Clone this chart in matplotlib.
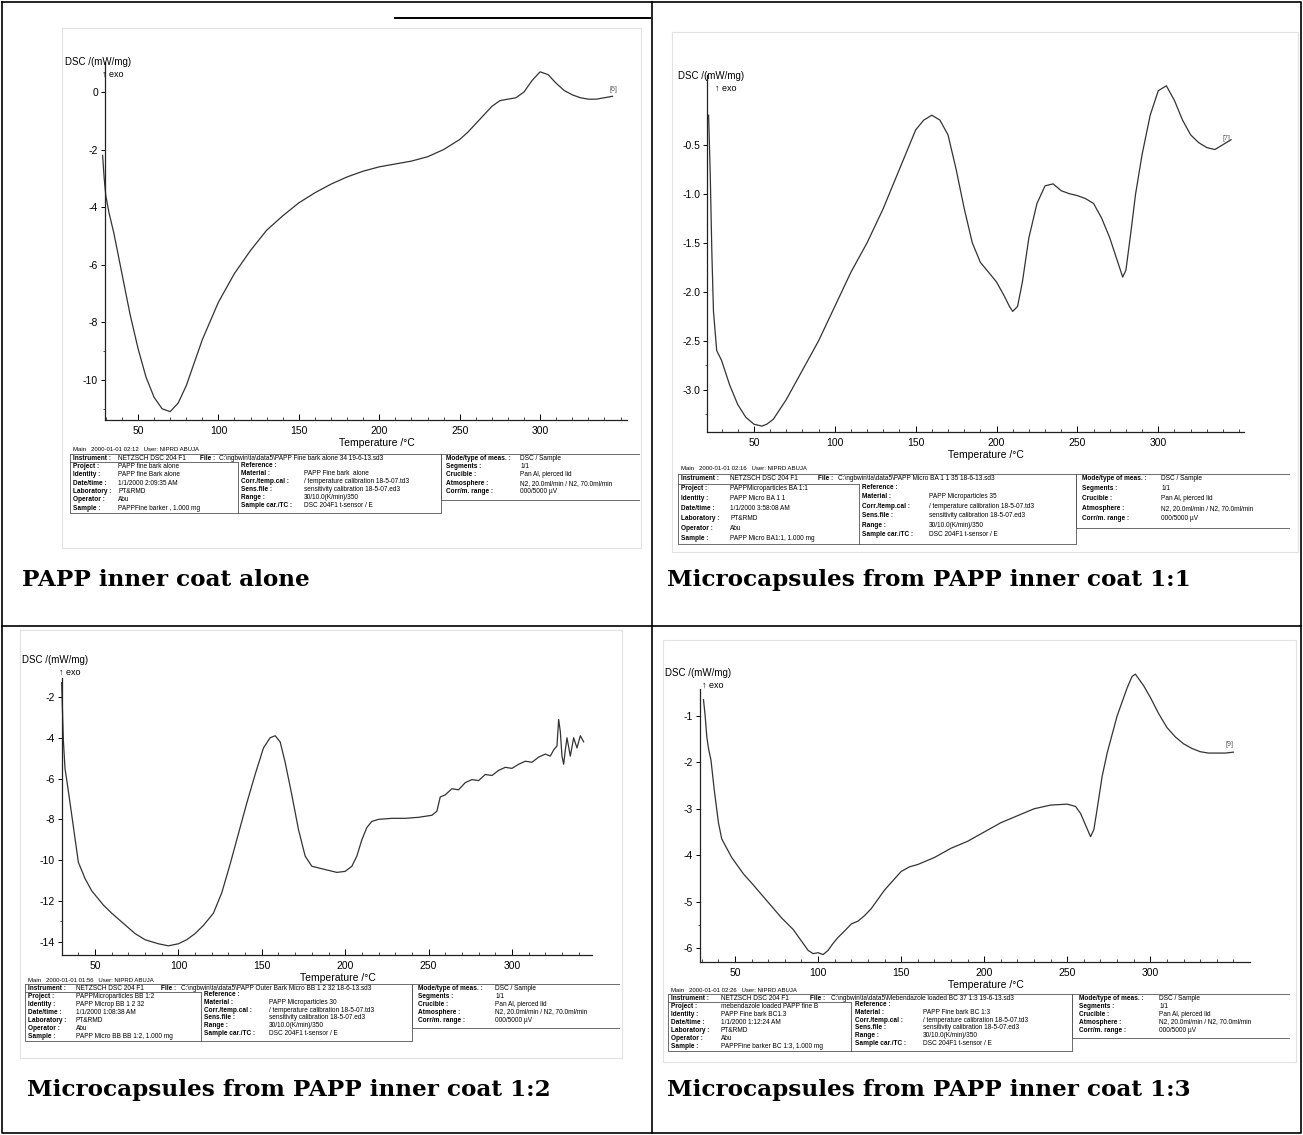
import matplotlib
matplotlib.use("Agg")
import matplotlib.pyplot as plt
from matplotlib.lines import Line2D

W, H = 1303, 1135
plt.rcParams['font.family'] = ['Liberation Sans', 'DejaVu Sans']

# ---- data (temperature / degC, DSC / (mW/mg)) ----
tl_temp = [28, 29, 30, 32, 35, 40, 45, 50, 55, 60, 65, 70, 75, 80, 85, 90, 100, 110, 120, 130,
           140, 150, 160, 170, 180, 190, 200, 210, 220, 230, 240, 250, 255, 260, 265, 270, 275, 280,
           285, 290, 295, 300, 305, 310, 315, 320, 325, 330, 335, 340, 345]
tl_dsc = [-2.2, -3.0, -3.6, -4.2, -4.9, -6.3, -7.7, -8.9, -9.9, -10.6, -11.0, -11.1, -10.8, -10.2,
          -9.4, -8.6, -7.3, -6.3, -5.5, -4.8, -4.3, -3.85, -3.5, -3.2, -2.95, -2.75, -2.6, -2.5,
          -2.4, -2.25, -2.0, -1.65, -1.4, -1.1, -0.8, -0.5, -0.3, -0.25, -0.2, 0.0, 0.4, 0.7, 0.6,
          0.3, 0.05, -0.1, -0.2, -0.25, -0.25, -0.2, -0.15]

tr_temp = [22, 23, 24, 25, 27, 30, 35, 40, 45, 50, 55, 58, 62, 70, 80, 90, 100, 110, 120, 130,
           140, 150, 155, 160, 165, 170, 175, 180, 185, 190, 195, 200, 205, 208, 210, 213, 216, 220,
           225, 230, 235, 240, 245, 250, 255, 260, 265, 270, 275, 278, 280, 283, 286, 290, 295, 300,
           305, 310, 315, 320, 325, 330, 335, 340, 345]
tr_dsc = [-0.2, -0.8, -1.6, -2.2, -2.6, -2.7, -2.95, -3.15, -3.28, -3.35, -3.37, -3.35, -3.3, -3.1,
          -2.8, -2.5, -2.15, -1.8, -1.5, -1.15, -0.75, -0.35, -0.25, -0.2, -0.25, -0.4, -0.75, -1.15,
          -1.5, -1.7, -1.8, -1.9, -2.05, -2.15, -2.2, -2.15, -1.9, -1.45, -1.1, -0.92, -0.9, -0.97,
          -1.0, -1.02, -1.05, -1.1, -1.25, -1.45, -1.7, -1.85, -1.78, -1.4, -1.0, -0.6, -0.2, 0.05,
          0.1, -0.05, -0.25, -0.4, -0.48, -0.53, -0.55, -0.5, -0.45]

bl_temp = [30, 31, 32, 34, 37, 40, 44, 48, 55, 60, 67, 74, 80, 88, 94, 100, 105, 110, 115, 121,
           126, 131, 136, 141, 146, 151, 155, 158, 161, 164, 168, 172, 176, 180, 185, 190, 195, 200,
           204, 207, 210, 213, 216, 220, 228, 236, 244, 252, 255, 257, 260, 264, 268, 272, 276,
           280, 284, 288, 292, 296, 300, 304, 308, 312, 316, 320, 323, 325, 327, 328, 329, 330, 331,
           332, 333, 335, 337, 339, 341, 343]
bl_dsc = [-1.3, -4.1, -5.5, -6.6, -8.35, -10.1, -10.9, -11.5, -12.2, -12.6, -13.1, -13.6, -13.9,
          -14.1, -14.2, -14.1, -13.9, -13.6, -13.2, -12.6, -11.6, -10.2, -8.7, -7.2, -5.8, -4.5,
          -4.0, -3.9, -4.2, -5.2, -6.8, -8.5, -9.8, -10.3, -10.4, -10.5, -10.6, -10.55, -10.3,
          -9.8, -9.0, -8.4, -8.1, -8.0, -7.95, -7.95, -7.9, -7.8, -7.6, -6.9, -6.8, -6.5, -6.55,
          -6.2, -6.05, -6.1, -5.8, -5.85, -5.6, -5.45, -5.5, -5.3, -5.15, -5.2, -4.95, -4.8,
          -4.9, -4.6, -4.4, -3.1, -3.7, -4.9, -5.3, -4.6, -4.0, -4.9, -4.0, -4.5, -3.9, -4.2]

br_temp = [31, 32, 33, 34, 35.5, 37.5, 40, 42, 48, 55, 60, 66, 72, 78, 85, 90, 94, 97, 100, 103,
           106, 109, 112, 116, 120, 124, 128, 132, 136, 140, 145, 150, 155, 160, 170, 180, 190, 200,
           210, 220, 230, 240, 250, 255, 258, 261, 264, 266, 268, 271, 274, 277, 280, 283, 286, 289,
           291, 293, 296, 300, 305, 310, 315, 320, 325, 330, 335, 340, 345, 350]
br_dsc = [-0.65, -1.0, -1.45, -1.7, -1.95, -2.6, -3.3, -3.65, -4.05, -4.4, -4.6, -4.85, -5.1,
          -5.35, -5.6, -5.85, -6.05, -6.12, -6.1, -6.14, -6.05, -5.9, -5.77, -5.63, -5.48, -5.42,
          -5.3, -5.15, -4.95, -4.75, -4.55, -4.35, -4.25, -4.2, -4.05, -3.85, -3.7, -3.5, -3.3,
          -3.15, -3.0, -2.92, -2.9, -2.95, -3.1, -3.35, -3.6, -3.45, -3.0, -2.3, -1.8, -1.4, -1.0,
          -0.7, -0.4, -0.15, -0.1, -0.2, -0.35, -0.6, -0.95, -1.25, -1.45, -1.6, -1.7, -1.77, -1.8,
          -1.8, -1.8, -1.78]

x_ticks = [50, 100, 150, 200, 250, 300]
tl_yticks = [0, -2, -4, -6, -8, -10]
tr_yticks = [-0.5, -1.0, -1.5, -2.0, -2.5, -3.0]
bl_yticks = [-2, -4, -6, -8, -10, -12, -14]
br_yticks = [-1, -2, -3, -4, -5, -6]

captions = ["PAPP inner coat alone", "Microcapsules from PAPP inner coat 1:1",
            "Microcapsules from PAPP inner coat 1:2", "Microcapsules from PAPP inner coat 1:3"]


def frac(l, t, r, b):
    return [l / W, 1 - b / H, (r - l) / W, (b - t) / H]


def fig_line(fig, xs, ys, **kw):
    fig.add_artist(Line2D([x / W for x in xs], [1 - y / H for y in ys],
                          transform=fig.transFigure, **kw))


def draw_dsc(fig, box, xlim, ylim, ytop, T, dsc, yticks, yfmt, tag, tag_pos, lab_xy):
    ax = fig.add_axes(frac(*box))
    ax.plot(T, dsc, color='#333333', lw=0.9, clip_on=False)
    ax.set_xlim(xlim)
    ax.set_ylim(ylim)
    ax.patch.set_alpha(0)
    ax.spines['top'].set_visible(False)
    ax.spines['right'].set_visible(False)
    ax.spines['left'].set_bounds(ylim[0], ytop)
    for s in ('left', 'bottom'):
        ax.spines[s].set_linewidth(0.9)
        ax.spines[s].set_color('#222222')
    ax.set_xticks(x_ticks)
    ax.set_xticks([t for t in range(30, 360, 10) if xlim[0] <= t <= xlim[1] and t not in x_ticks],
                  minor=True)
    ax.set_yticks(yticks)
    ax.set_yticklabels([yfmt.format(v) for v in yticks])
    step = abs(yticks[1] - yticks[0]) / 2
    ax.set_yticks([v for v in [yticks[-1] - step * k for k in range(-1, 40)]
                   if ylim[0] <= v <= ytop and v not in yticks], minor=True)
    ax.tick_params(axis='x', which='major', direction='in', length=4, width=0.7, labelsize=7.5, pad=4)
    ax.tick_params(axis='x', which='minor', direction='in', length=2, width=0.5)
    ax.tick_params(axis='y', which='major', direction='out', length=3, width=0.7, labelsize=7.5, pad=2)
    ax.tick_params(axis='y', which='minor', direction='out', length=1.5, width=0.5)
    ax.set_xlabel('Temperature /°C', fontsize=7.5, labelpad=0)
    ax.xaxis.set_label_coords(0.52, -18.0 / (box[3] - box[1]))
    # y label block, positioned in figure pixels like the scan
    fig.text(lab_xy[0] / W, 1 - lab_xy[1] / H, 'DSC /(mW/mg)', fontsize=7, va='center', ha='left')
    fig.text((lab_xy[0] + 37) / W, 1 - (lab_xy[1] + 12) / H, '↑ exo', fontsize=6.5,
             va='center', ha='left')
    if tag:
        ax.text(tag_pos[0], tag_pos[1], tag, fontsize=5, color='#555555')
    return ax


def draw_info(fig, l, r, y0, y7, main, instr, fpath, col1, col2, col3):
    d = (y7 - y0) / 7
    ax = fig.add_axes(frac(l, y0 - 0.6 * d, r, y7 + 1.0 * d))
    ax.set_xlim(0, 1)
    ax.set_ylim(8.0, -0.6)
    ax.axis('off')
    fs = 4.7
    ax.text(0.005, 0, main, fontsize=fs - 0.4, va='center')
    ax.text(0.005, 1, 'Instrument :', fontsize=fs, va='center', weight='bold')
    ax.text(0.085, 1, instr, fontsize=fs, va='center')
    ax.text(0.228, 1, 'File :', fontsize=fs, va='center', weight='bold')
    ax.text(0.262, 1, fpath, fontsize=fs, va='center')
    for i, (k, v) in enumerate(col1):
        ax.text(0.005, 2 + i, k, fontsize=fs, va='center', weight='bold')
        ax.text(0.085, 2 + i, v, fontsize=fs, va='center')
    for i, (k, v) in enumerate(col2):
        ax.text(0.30, 1.85 + i * 0.96, k, fontsize=fs, va='center', weight='bold')
        ax.text(0.41, 1.85 + i * 0.96, v, fontsize=fs, va='center')
    for i, (k, v) in enumerate(col3):
        ax.text(0.66, 1.0 + i, k, fontsize=fs, va='center', weight='bold')
        ax.text(0.79, 1.0 + i, v, fontsize=fs, va='center')
    kw = dict(color='#555555', lw=0.6)
    ax.plot([0, 0, 0.65, 0.65, 0], [0.5, 7.6, 7.6, 0.5, 0.5], **kw)
    ax.plot([0, 0.295], [1.5, 1.5], **kw)
    ax.plot([0.295, 0.295], [1.5, 7.6], **kw)
    ax.plot([0.65, 0.65, 1.0, 1.0, 0.65], [0.5, 6.0, 6.0, 0.5, 0.5], **kw)


fig = plt.figure(figsize=(W / 100, H / 100), dpi=100)
fig.patch.set_facecolor('white')

# faint frames of the scanned pictures
for (l, t, r, b) in [(62, 28, 641, 548), (672, 32, 1298, 552), (20, 630, 622, 1058), (663, 640, 1296, 1062)]:
    fig_line(fig, [l, r, r, l, l], [t, t, b, b, t], color='#e2e2e2', lw=0.8)
fig_line(fig, [395, 650], [18, 18], color='black', lw=1.4)

draw_dsc(fig, (105, 60, 627, 420), (29.5, 354), (-11.39, 1.11), 1.05,
         tl_temp, tl_dsc, tl_yticks, '{:g}', '[6]', (343, 0.05), (65, 62))
draw_dsc(fig, (707, 75, 1244, 432), (21, 353), (-3.43, 0.21), 0.21,
         tr_temp, tr_dsc, tr_yticks, '{:.1f}', '[7]', (340, -0.45), (678, 76))
draw_dsc(fig, (62, 678, 592, 955), (30.2, 348), (-14.65, -1.07), -1.07,
         bl_temp, bl_dsc, bl_yticks, '{:g}', '', (340, -3), (22, 660))
draw_dsc(fig, (700, 689, 1250, 962), (28.9, 360), (-6.30, -0.42), -0.42,
         br_temp, br_dsc, br_yticks, '{:g}', '[9]', (345, -1.65), (665, 673))

draw_info(fig, 70, 640, 450, 508, 'Main   2000-01-01 02:12   User: NIPRD ABUJA',
          'NETZSCH DSC 204 F1', r'C:\ngbwin\ta\data5\PAPP Fine bark alone 34 19-6-13.sd3',
          [('Project :', 'PAPP fine bark alone'), ('Identity :', 'PAPP fine Bark alone'),
           ('Date/time :', '1/1/2000 2:09:35 AM'), ('Laboratory :', 'PT&RMD'),
           ('Operator :', 'Abu'), ('Sample :', 'PAPPFine barker , 1.000 mg')],
          [('Reference :', ''), ('Material :', 'PAPP Fine bark  alone'),
           ('Corr./temp.cal :', '/ temperature calibration 18-5-07.td3'),
           ('Sens.file :', 'sensitivity calibration 18-5-07.ed3'),
           ('Range :', '30/10.0(K/min)/350'), ('Sample car./TC :', 'DSC 204F1 t-sensor / E')],
          [('Mode/type of meas. :', 'DSC / Sample'), ('Segments :', '1/1'),
           ('Crucible :', 'Pan Al, pierced lid'), ('Atmosphere :', 'N2, 20.0ml/min / N2, 70.0ml/min'),
           ('Corr/m. range :', '000/5000 µV')])

draw_info(fig, 678, 1290, 469, 538, 'Main   2000-01-01 02:16   User: NIPRD ABUJA',
          'NETZSCH DSC 204 F1', r'C:\ngbwin\ta\data5\PAPP Micro BA 1 1 35 18-6-13.sd3',
          [('Project :', 'PAPPMicroparticles BA 1:1'), ('Identity :', 'PAPP Micro BA 1 1'),
           ('Date/time :', '1/1/2000 3:58:08 AM'), ('Laboratory :', 'PT&RMD'),
           ('Operator :', 'Abu'), ('Sample :', 'PAPP Micro BA1:1, 1.000 mg')],
          [('Reference :', ''), ('Material :', 'PAPP Microparticles 35'),
           ('Corr./temp.cal :', '/ temperature calibration 18-5-07.td3'),
           ('Sens.file :', 'sensitivity calibration 18-5-07.ed3'),
           ('Range :', '30/10.0(K/min)/350'), ('Sample car./TC :', 'DSC 204F1 t-sensor / E')],
          [('Mode/type of meas. :', 'DSC / Sample'), ('Segments :', '1/1'),
           ('Crucible :', 'Pan Al, pierced lid'), ('Atmosphere :', 'N2, 20.0ml/min / N2, 70.0ml/min'),
           ('Corr/m. range :', '000/5000 µV')])

draw_info(fig, 25, 620, 980, 1036, 'Main   2000-01-01 01:56   User: NIPRD ABUJA',
          'NETZSCH DSC 204 F1', r'C:\ngbwin\ta\data5\PAPP Outer Bark Micro BB 1 2 32 18-6-13.sd3',
          [('Project :', 'PAPPMicroparticles BB 1:2'), ('Identity :', 'PAPP Microp BB 1 2 32'),
           ('Date/time :', '1/1/2000 1:08:38 AM'), ('Laboratory :', 'PT&RMD'),
           ('Operator :', 'Abu'), ('Sample :', 'PAPP Micro BB BB 1:2, 1.000 mg')],
          [('Reference :', ''), ('Material :', 'PAPP Microparticles 30'),
           ('Corr./temp.cal :', '/ temperature calibration 18-5-07.td3'),
           ('Sens.file :', 'sensitivity calibration 18-5-07.ed3'),
           ('Range :', '30/10.0(K/min)/350'), ('Sample car./TC :', 'DSC 204F1 t-sensor / E')],
          [('Mode/type of meas. :', 'DSC / Sample'), ('Segments :', '1/1'),
           ('Crucible :', 'Pan Al, pierced lid'), ('Atmosphere :', 'N2, 20.0ml/min / N2, 70.0ml/min'),
           ('Corr/m. range :', '000/5000 µV')])

draw_info(fig, 668, 1290, 990, 1046, 'Main   2000-01-01 02:26   User: NIPRD ABUJA',
          'NETZSCH DSC 204 F1', r'C:\ngbwin\ta\data5\Mebendazole loaded BC 37 1:3 19-6-13.sd3',
          [('Project :', 'mebendazole loaded PAPP fine B'), ('Identity :', 'PAPP Fine bark BC1.3'),
           ('Date/time :', '1/1/2000 1:12:24 AM'), ('Laboratory :', 'PT&RMD'),
           ('Operator :', 'Abu'), ('Sample :', 'PAPPFine barker BC 1:3, 1.000 mg')],
          [('Reference :', ''), ('Material :', 'PAPP Fine bark BC 1:3'),
           ('Corr./temp.cal :', '/ temperature calibration 18-5-07.td3'),
           ('Sens.file :', 'sensitivity calibration 18-5-07.ed3'),
           ('Range :', '30/10.0(K/min)/350'), ('Sample car./TC :', 'DSC 204F1 t-sensor / E')],
          [('Mode/type of meas. :', 'DSC / Sample'), ('Segments :', '1/1'),
           ('Crucible :', 'Pan Al, pierced lid'), ('Atmosphere :', 'N2, 20.0ml/min / N2, 70.0ml/min'),
           ('Corr/m. range :', '000/5000 µV')])

# captions
for (x, y), txt in zip([(22, 580), (667, 580), (27, 1090), (667, 1090)], captions):
    fig.text(x / W, 1 - y / H, txt, fontsize=16.7, weight='bold', family='DejaVu Serif',
             va='center', ha='left')

# table grid
fig_line(fig, [2, 1301, 1301, 2, 2], [2, 2, 1133, 1133, 2], color='black', lw=1.2)
fig_line(fig, [652, 652], [2, 1133], color='black', lw=1.2)
fig_line(fig, [2, 1301], [626, 626], color='black', lw=1.2)

fig.savefig('out.png', dpi=100)
